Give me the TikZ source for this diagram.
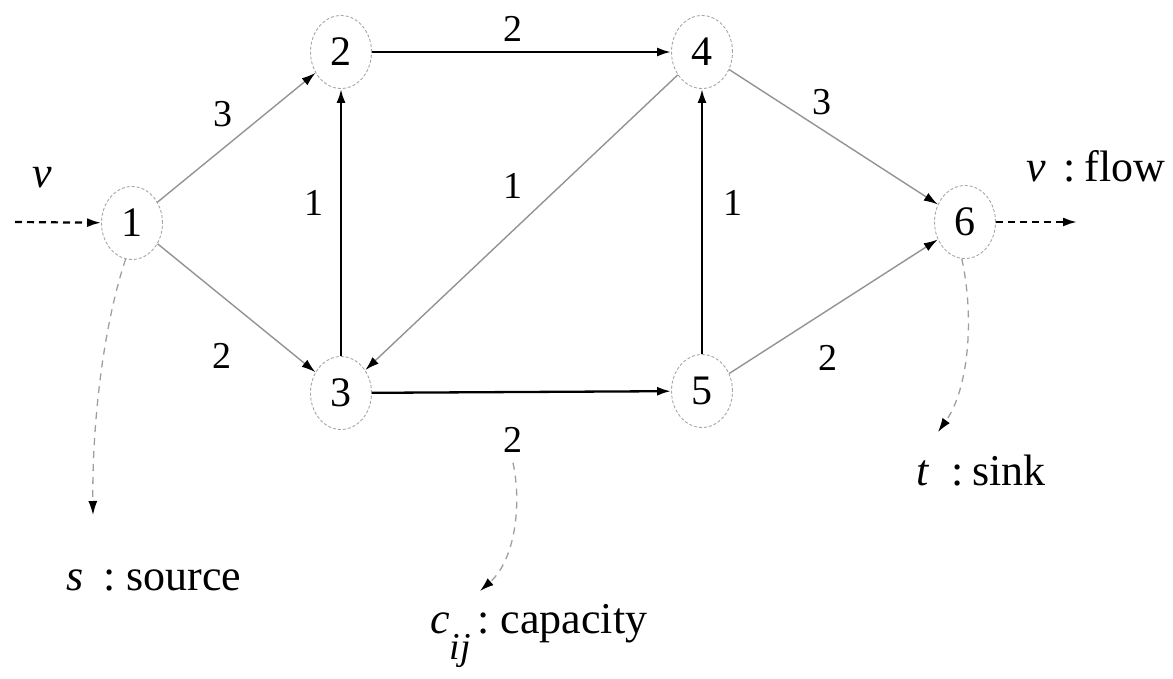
\documentclass[tikz,border=0pt]{standalone}
\usepackage{fontspec}
\setmainfont{Liberation Serif}
\usetikzlibrary{arrows.meta,shapes.geometric}
\begin{document}
\begin{tikzpicture}[x=1pt,y=-1pt,
  vert/.style={ellipse,draw=gray!70,densely dashed,line width=0.9pt,minimum width=61pt,minimum height=73pt,inner sep=0pt,font=\fontsize{42}{42}\selectfont},
  lab/.style={font=\fontsize{38}{38}\selectfont,inner sep=0pt},
  txt/.style={font=\fontsize{44}{44}\selectfont,inner sep=0pt,anchor=base west},
  tip/.style={-{Latex[length=14pt,width=9pt,color=black]}},
  thinedge/.style={tip,draw=gray!85,line width=1.4pt},
  thickedge/.style={tip,draw=black,line width=2.3pt},
  flowarrow/.style={tip,draw=black,line width=2.2pt,dash pattern=on 7pt off 5pt},
  note/.style={tip,draw=gray!75,line width=1.3pt,dash pattern=on 7pt off 6pt}
]
\useasboundingbox (0,0) rectangle (1173,679);
\node[vert] (n1) at (132,223) {1};
\node[vert] (n2) at (341,52) {2};
\node[vert] (n3) at (341,393) {3};
\node[vert] (n4) at (702,52) {4};
\node[vert] (n5) at (702,391) {5};
\node[vert] (n6) at (965,222) {6};

\draw[thinedge] (n1) -- (n2);
\draw[thinedge] (n1) -- (n3);
\draw[thickedge] (n2) -- (n4);
\draw[thickedge] (n3) -- (n2);
\draw[thinedge] (n4) -- (n3);
\draw[thickedge] (n3) -- (n5);
\draw[thickedge] (n5) -- (n4);
\draw[thinedge] (n4) -- (n6);
\draw[thinedge] (n5) -- (n6);

\node[lab] (l12) at (223,114) {3};
\node[lab] (l13) at (222,356) {2};
\node[lab] (l24) at (513,29) {2};
\node[lab] (l32) at (314,203) {1};
\node[lab] (l43) at (513,186) {1};
\node[lab] (l54) at (733,203) {1};
\node[lab] (l46) at (822,102) {3};
\node[lab] (l56) at (828,358) {2};
\node[lab] (l35) at (513,440) {2};

\coordinate (in) at (15,222);
\coordinate (out) at (1077,222);
\draw[flowarrow] (in) -- (n1);
\draw[flowarrow] (n6) -- (out);

\node[txt] (vin) at (32,188) {\textit{v}};
\node[txt] (flow) at (1026,182) {\textit{v}\hspace{0.4em}:\hspace{0.2em}flow};
\node[txt] (src) at (66,590) {\textit{s}\hspace{0.45em}:\hspace{0.25em}source};
\node[txt] (cap) at (430,633) {\textit{c}\raisebox{-0.6em}{\fontsize{38}{38}\selectfont\textit{ij}}\hspace{0.15em}:\hspace{0.25em}capacity};
\node[txt] (snk) at (916,485) {\textit{t}\hspace{0.5em}:\hspace{0.2em}sink};

\coordinate (srcend) at (93,515);
\coordinate (capend) at (480,591);
\coordinate (snkend) at (938,432);
\draw[note] (n1.-100) .. controls (102,330) and (92,430) .. (srcend);
\draw[note] (l35.south) ++(0,10) .. controls (522,505) and (515,560) .. (capend);
\draw[note] (n6.-95) .. controls (975,320) and (968,390) .. (snkend);
\end{tikzpicture}
\end{document}
